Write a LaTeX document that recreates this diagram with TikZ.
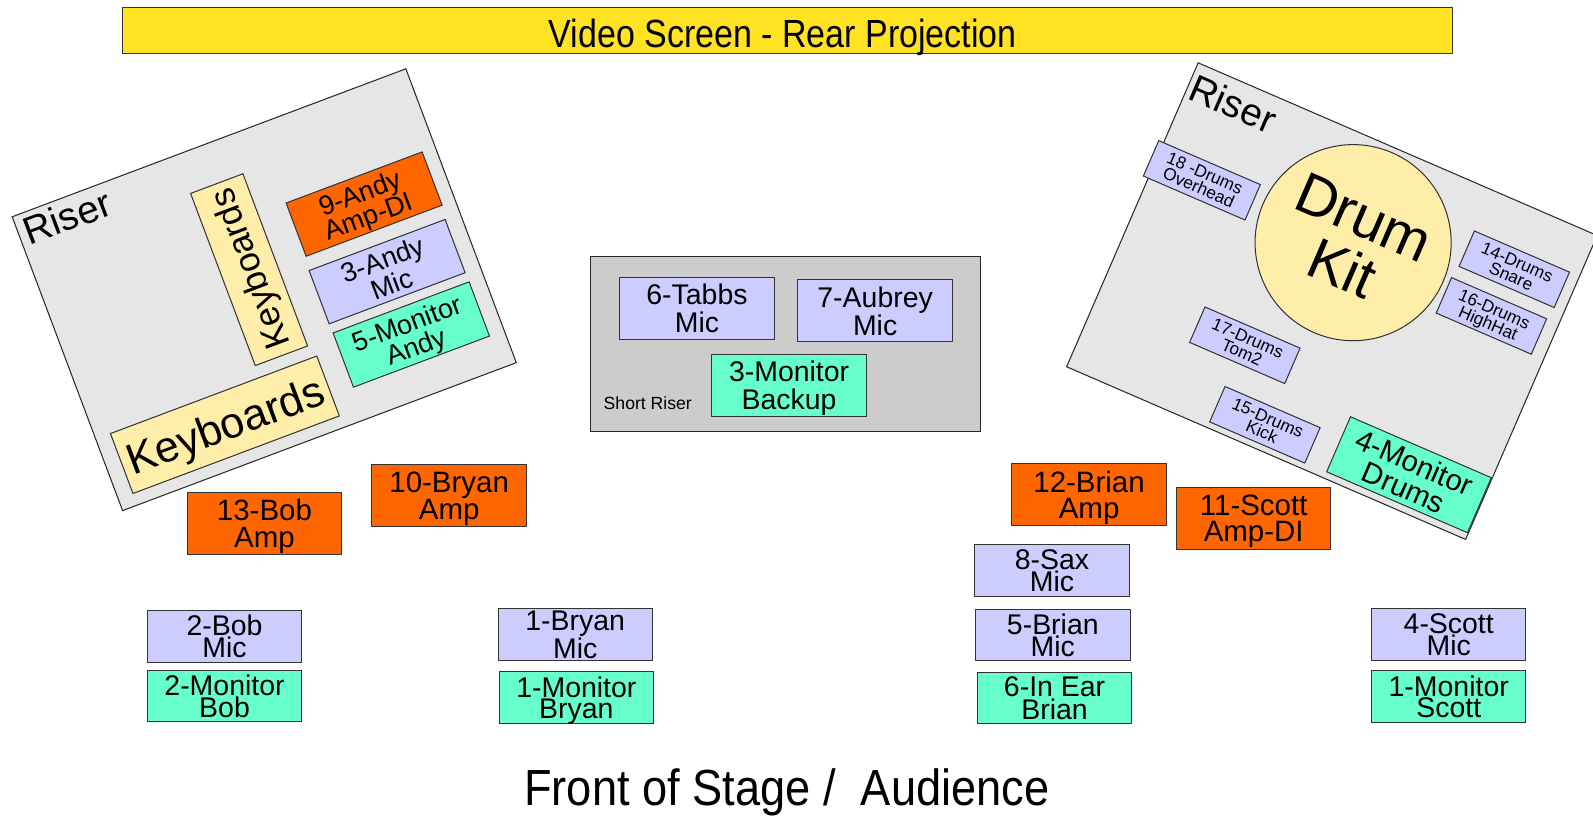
\documentclass[tikz,border=0pt]{standalone}
\usepackage{fontspec}
\setmainfont{Liberation Sans}
\definecolor{screenyellow}{HTML}{FFE322}
\definecolor{risergray}{HTML}{E6E6E6}
\definecolor{shortgray}{HTML}{CCCCCC}
\definecolor{micblue}{HTML}{CCCCFF}
\definecolor{monmint}{HTML}{66FFCC}
\definecolor{amporange}{HTML}{FF6600}
\definecolor{keycream}{HTML}{FFEEAA}
\tikzset{
    every node/.style={transform shape},
    dims/.style 2 args={minimum width=#1*0.75pt, minimum height=#2*0.75pt},
    gear/.style={draw=black!80, line width=0.75pt, inner sep=0pt, align=center,
        text depth=0pt},
    micbox/.style={gear, fill=micblue, dims={152}{51},
        font=\fontsize{21}{15}\selectfont},
    monbox/.style={gear, fill=monmint, dims={152}{51},
        font=\fontsize{21}{15}\selectfont},
    ampbox/.style={gear, fill=amporange, dims={152}{61},
        font=\fontsize{21.75}{19.5}\selectfont},
    drumbox/.style={gear, fill=micblue, dims={102}{38},
        font=\fontsize{12.75}{11.25}\selectfont},
    keybox/.style={gear, fill=keycream},
    riser/.style={draw=black!85, line width=0.75pt, fill=risergray, inner sep=0pt},
    riserlabel/.style={inner sep=0pt, anchor=north west,
        font=\fontsize{28.5}{28.5}\selectfont},
}

\begin{document}
\begin{tikzpicture}[x=0.75pt, y=-0.75pt]
    \useasboundingbox (0,0) rectangle (1568,804);
    \node[gear, fill=screenyellow, dims={1309}{46}] (screen) at (775.5,30) {};
    \node[anchor=base, inner sep=0pt, font=\fontsize{29}{29}\selectfont]
        (screenlabel) at (770.5,47)
        {\scalebox{0.865}[1]{Video Screen - Rear Projection}};

    \begin{scope}[shift={(259.9,284.7)}, rotate=20.6]
        \node[riser, dims={414}{309}] (leftriser) at (0,0.5) {};
        \node[riserlabel] (leftriserlabel) at (-201,-149) {Riser};
        \node[keybox, dims={217}{63}, font=\fontsize{32}{32}\selectfont]
            (keysfront) at (-83,111.3) {Keyboards};
        \node[keybox, dims={181}{55}, rotate=90,
            font=\fontsize{26}{26}\selectfont] (keysside) at (-7,-23.2)
            {Keyboards};
        \node[ampbox, dims={143}{56}, font=\fontsize{20}{18}\selectfont]
            (andyamp) at (121.7,-43.8) {9-Andy\\Amp-DI};
        \node[micbox, dims={143}{56}, font=\fontsize{20}{18}\selectfont]
            (andymic) at (119.5,26.4) {3-Andy\\Mic};
        \node[monbox, dims={143}{57}, font=\fontsize{20}{18}\selectfont]
            (andymon) at (120,92.7) {5-Monitor\\Andy};
    \end{scope}

    \begin{scope}[shift={(1311,296.4)}, rotate=-23.4]
        \node[riser, dims={428}{326}] (rightriser) at (0,0) {};
        \node[riserlabel] (rightriserlabel) at (-211,-154) {Riser};
        \node[gear, circle, fill=keycream, minimum size=193*0.75pt,
            font=\fontsize{42.75}{41}\selectfont] (drumkit) at (-3.7,-61.1)
            {Drum\\Kit};
        \node[drumbox, dims={109}{38}] (overhead) at (-164.7,-58.3)
            {18 -Drums\\Overhead};
        \node[drumbox] (snare) at (152.3,-100.1) {14-Drums\\Snare};
        \node[drumbox] (hihat) at (149.9,-49) {16-Drums\\HighHat};
        \node[drumbox] (tom) at (-61.4,73.9) {17-Drums\\Tom2};
        \node[drumbox] (kick) at (-12.2,137.9) {15-Drums\\Kick};
        \node[monbox, dims={151}{59}, font=\fontsize{21.75}{20}\selectfont]
            (drummon) at (137.5,126.7) {4-Monitor\\Drums};
    \end{scope}

    \node[riser, fill=shortgray, dims={384}{173}] (shortriser) at (773,338.5) {};
    \node[micbox, dims={152}{61}, font=\fontsize{21}{20.5}\selectfont]
        (tabbsmic) at (686,303.5) {6-Tabbs\\Mic};
    \node[micbox, dims={152}{61}, font=\fontsize{21}{20.5}\selectfont]
        (aubreymic) at (861.4,306) {7-Aubrey\\Mic};
    \node[monbox, dims={152}{61}, font=\fontsize{21}{20.5}\selectfont]
        (backupmon) at (776.7,379) {3-Monitor\\Backup};
    \node[anchor=base west, inner sep=0pt, font=\fontsize{13}{13}\selectfont]
        (shortriserlabel) at (594,403.5) {Short Riser};

    \node[ampbox] (bobamp) at (260.3,514.9) {13-Bob\\Amp};
    \node[ampbox] (bryanamp) at (442.1,488) {10-Bryan\\Amp};
    \node[ampbox] (brianamp) at (1072,487.2) {12-Brian\\Amp};
    \node[ampbox] (scottamp) at (1234,510) {11-Scott\\Amp-DI};

    \node[micbox] (bobmic) at (221,626.5) {2-Bob\\Mic};
    \node[monbox] (bobmon) at (221,685) {2-Monitor\\Bob};
    \node[micbox] (bryanmic) at (566.2,624.8) {1-Bryan\\Mic};
    \node[monbox] (bryanmon) at (567.3,686.6) {1-Monitor\\Bryan};
    \node[micbox] (saxmic) at (1035.5,561.8) {8-Sax\\Mic};
    \node[micbox] (brianmic) at (1036.3,625) {5-Brian\\Mic};
    \node[monbox] (brianear) at (1038,687) {6-In Ear\\Brian};
    \node[micbox] (scottmic) at (1426,624.8) {4-Scott\\Mic};
    \node[monbox] (scottmon) at (1426,685.7) {1-Monitor\\Scott};

    \node[anchor=base, inner sep=0pt, font=\fontsize{37.5}{37.5}\selectfont]
        (audience) at (774.5,793)
        {\scalebox{0.89}[1]{Front of Stage /\ \ Audience}};
\end{tikzpicture}
\end{document}
